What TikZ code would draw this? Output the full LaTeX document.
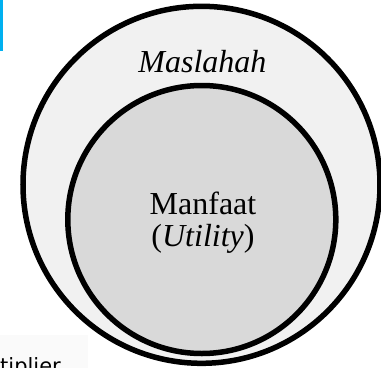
\documentclass[tikz,border=0pt]{standalone}
\usepackage{fontspec}
\setmainfont{Liberation Serif}
\newfontfamily\uisans{DejaVu Sans}
\definecolor{bluebar}{HTML}{00B0F0}
\definecolor{outerfill}{HTML}{F1F1F1}
\definecolor{innerfill}{HTML}{D9D9D9}
\definecolor{boxfill}{HTML}{FAFAFA}
\begin{document}
\begin{tikzpicture}[x=1bp,y=-1bp,
  ring/.style={circle,draw=black,line width=5.5bp,inner sep=0pt,outer sep=0pt},
  lbl/.style={inner sep=0pt,anchor=base,font=\fontsize{32bp}{32bp}\selectfont}]
\useasboundingbox (0,0) rectangle (381,368);
\fill[boxfill] (0,335) rectangle (88,368);
\node[anchor=base west,inner sep=0pt,font=\uisans\fontsize{21bp}{21bp}\selectfont] (tip) at (0,373) {tiplier};
\fill[bluebar] (0,0) rectangle (3,51);
\node[ring,fill=outerfill,minimum size=357bp] (outer) at (201.5,184.8) {};
\node[ring,fill=innerfill,minimum size=268bp] (inner) at (201.8,219.5) {};
\node[lbl] (maslahah) at (202.5,72.5) {\itshape Maslahah};
\node[lbl] (manfaat) at (203,214.5) {Manfaat};
\node[lbl] (utility) at (203,246) {(\textit{Utility})};
\end{tikzpicture}
\end{document}
